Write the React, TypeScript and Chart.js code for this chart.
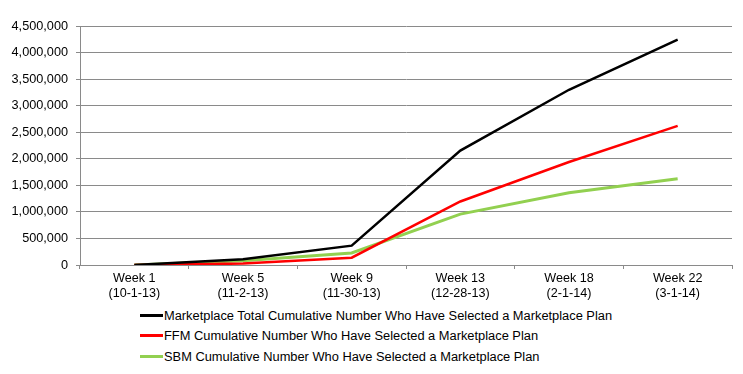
import React, { useEffect, useRef } from "react";
import { Chart, registerables } from "chart.js";

Chart.register(...registerables);

const categories: string[][] = [
  ["Week 1", "(10-1-13)"],
  ["Week 5", "(11-2-13)"],
  ["Week 9", "(11-30-13)"],
  ["Week 13", "(12-28-13)"],
  ["Week 18", "(2-1-14)"],
  ["Week 22", "(3-1-14)"],
];

const totalValues = [0, 106185, 364682, 2153421, 3299492, 4242325];
const ffmValues = [0, 26794, 137258, 1196012, 1938917, 2618563];
const sbmValues = [0, 79391, 227424, 957409, 1360575, 1623762];

const seriesNames = [
  "Marketplace Total Cumulative Number Who Have Selected a Marketplace Plan",
  "FFM Cumulative Number Who Have Selected a Marketplace Plan",
  "SBM Cumulative Number Who Have Selected a Marketplace Plan",
];
const seriesColors = ["#000000", "#ff0000", "#92d050"];

const FONT = "'Liberation Sans', Arial, sans-serif";
const GRID = "#8a8a8a";

export default function App() {
  const ref = useRef<HTMLCanvasElement | null>(null);

  useEffect(() => {
    if (!ref.current) return;
    const chart = new Chart(ref.current, {
      type: "line",
      data: {
        labels: categories,
        datasets: [totalValues, ffmValues, sbmValues].map((d, i) => ({
          label: seriesNames[i],
          data: d,
          borderColor: seriesColors[i],
          backgroundColor: seriesColors[i],
          borderWidth: i === 2 ? 3 : 2.5,
          pointRadius: 0,
          tension: 0,
          fill: false,
        })),
      },
      options: {
        animation: false,
        responsive: false,
        maintainAspectRatio: false,
        layout: { padding: { left: 0, right: 11, top: 26, bottom: 0 } },
        plugins: { legend: { display: false }, tooltip: { enabled: false } },
        scales: {
          x: {
            offset: true,
            grid: {
              display: true,
              drawOnChartArea: false,
              drawTicks: true,
              tickLength: 4,
              color: GRID,
              offset: true,
            },
            border: { color: GRID, width: 1 },
            ticks: {
              color: "#000",
              font: { family: FONT, size: 12.6, lineHeight: 1.2 },
              padding: 2,
              maxRotation: 0,
              autoSkip: false,
            },
            afterFit: (s: any) => {
              s.height = 40;
            },
          },
          y: {
            min: 0,
            max: 4500000,
            grid: { color: GRID, tickLength: 4, lineWidth: 1 },
            border: { color: GRID, width: 1 },
            ticks: {
              stepSize: 500000,
              color: "#000",
              padding: 8,
              font: { family: FONT, size: 12.7 },
              callback: (v: any) => Number(v).toLocaleString("en-US"),
            },
            afterFit: (s: any) => {
              s.width = 80;
            },
          },
        },
      },
    });
    return () => chart.destroy();
  }, []);

  return (
    <div
      style={{
        position: "fixed",
        left: 0,
        top: 0,
        width: 743,
        height: 374,
        background: "#fff",
        fontFamily: FONT,
      }}
    >
      <canvas ref={ref} width={743} height={305} style={{ display: "block" }} />
      <div style={{ position: "absolute", left: 140, top: 305 }}>
        {seriesNames.map((n, i) => (
          <div
            key={n}
            style={{ display: "flex", alignItems: "center", height: 20.5, fontSize: 12.85, color: "#000", whiteSpace: "nowrap" }}
          >
            <span
              style={{
                display: "inline-block",
                width: 23,
                height: 3,
                background: seriesColors[i],
                marginRight: 1,
              }}
            />
            <span>{n}</span>
          </div>
        ))}
      </div>
    </div>
  );
}
